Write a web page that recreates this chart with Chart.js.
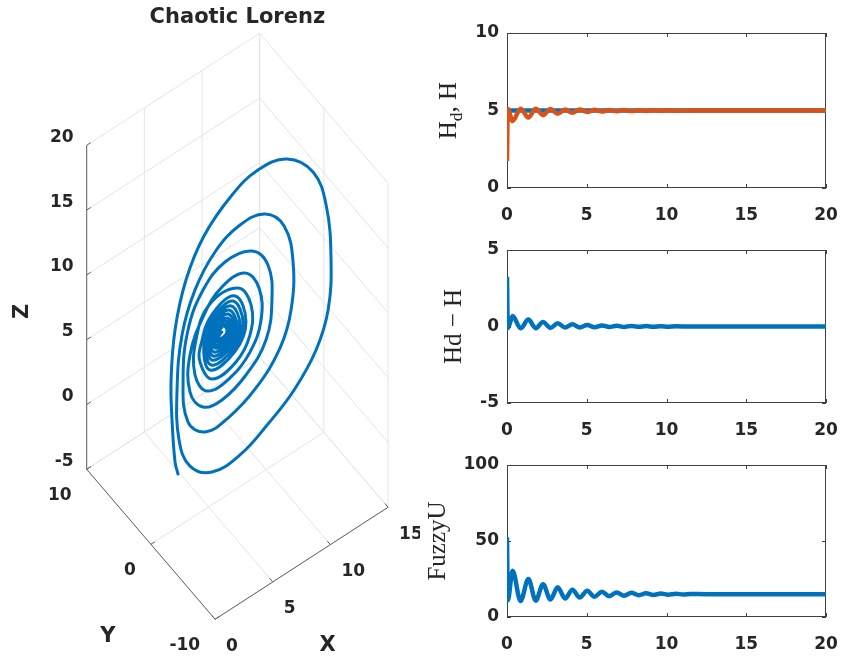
<!DOCTYPE html>
<html>
<head>
<meta charset="utf-8">
<title>Chaotic Lorenz</title>
<script src="https://cdn.jsdelivr.net/npm/chart.js@4.4.1/dist/chart.umd.min.js"></script>
<style>
  body { margin: 0; background: #fff; }
  #wrap { position: relative; width: 842px; height: 661px; overflow: hidden; }
  #wrap canvas { position: absolute; }
</style>
</head>
<body>
<div id="wrap">
  <canvas id="lorenz" width="420" height="661" style="left:0;top:0"></canvas>
  <canvas id="hChart" width="422" height="225" style="left:420px;top:0"></canvas>
  <canvas id="eChart" width="422" height="220" style="left:420px;top:220px"></canvas>
  <canvas id="uChart" width="422" height="214" style="left:420px;top:440px"></canvas>
</div>
<script>
/*------------------------- Lorenz trajectory (x, y, z) -------------------------*/
var lorenzX = [3.43, 3.24, 3.04, 2.98, 3.24, 3.95, 5.12, 6.94, 8.63, 10.52,
  12.21, 13.06, 13.38, 13.19, 12.41, 10.98, 9.28, 7.46, 5.64, 4.21,
  3.50, 3.37, 3.69, 4.54, 5.84, 7.46, 9.09, 10.33, 10.91, 10.78,
  10.07, 8.50, 6.68, 5.19, 4.08, 3.76, 4.08, 5.06, 6.49, 8.24,
  9.28, 9.54, 9.15, 7.85, 6.29, 5.06, 4.21, 4.21, 5.12, 6.29,
  7.79, 8.70, 8.83, 8.11, 6.81, 5.32, 4.54, 4.60, 5.45, 7.33,
  8.18, 8.11, 7.20, 5.64, 4.86,
  4.93, 5.64, 7.14, 7.85, 7.14, 5.51,
  5.12, 5.76, 7.01, 7.66, 7.03, 5.58,
  5.25, 5.81, 6.88, 7.46, 6.91, 5.64,
  5.38, 5.86, 6.75, 7.27, 6.80, 5.71,
  5.51, 5.92, 6.68, 7.14, 6.73, 5.77,
  5.64, 5.99, 6.62, 7.01, 6.67, 5.84,
  5.77, 6.05, 6.55, 6.88, 6.60, 5.90,
  5.90, 6.12, 6.49, 6.75, 6.54, 5.97,
  6.03, 6.18, 6.42, 6.62, 6.47, 6.03,
  6.16, 6.29];
var lorenzY = [1.94, 2.06, 2.17, 2.21, 2.06, 1.63, 0.93, -0.17, -1.18, -2.31,
  -3.33, -3.84, -4.03, -3.91, -3.44, -2.59, -1.57, -0.48, 0.61, 1.47,
  1.90, 1.98, 1.78, 1.28, 0.50, -0.48, -1.45, -2.20, -2.55, -2.47,
  -2.04, -1.10, -0.01, 0.89, 1.55, 1.74, 1.55, 0.96, 0.11, -0.94,
  -1.57, -1.72, -1.49, -0.71, 0.23, 0.96, 1.47, 1.47, 0.93, 0.23,
  -0.67, -1.22, -1.30, -0.87, -0.09, 0.81, 1.28, 1.24, 0.73, -0.40,
  -0.91, -0.87, -0.32, 0.61, 1.08,
  1.04, 0.61, -0.28, -0.71, -0.28, 0.69,
  0.93, 0.54, -0.21, -0.60, -0.22, 0.65,
  0.85, 0.51, -0.13, -0.48, -0.15, 0.61,
  0.77, 0.48, -0.05, -0.36, -0.08, 0.57,
  0.69, 0.45, -0.01, -0.28, -0.04, 0.54,
  0.61, 0.41, 0.03, -0.21, 0.00, 0.50,
  0.54, 0.37, 0.07, -0.13, 0.04, 0.46,
  0.46, 0.33, 0.11, -0.05, 0.08, 0.42,
  0.38, 0.29, 0.15, 0.03, 0.12, 0.38,
  0.30, 0.23];
var lorenzZ = [-2.68, -1.71, 1.58, 4.68, 8.48, 12.17, 15.30, 18.05, 19.59, 20.00,
  18.61, 15.87, 11.56, 7.74, 4.83, 2.08, -0.16, -2.13, -3.03, -2.24,
  -0.07, 3.82, 7.99, 11.27, 13.90, 15.61, 16.09, 14.88, 11.97, 8.29,
  5.53, 2.80, 0.90, 0.16, 1.19, 4.50, 8.28, 11.15, 12.98, 13.43,
  12.11, 9.35, 6.35, 3.95, 2.38, 2.12, 3.47, 6.33, 9.20, 11.10,
  11.84, 10.47, 7.97, 5.66, 3.96, 3.29, 4.71, 7.39, 9.90, 10.78,
  9.28, 6.98, 5.10, 4.15, 5.64,
  7.01, 9.12, 10.21, 8.04, 5.93, 4.87,
  7.07, 8.90, 9.85, 7.97, 6.15, 5.24,
  7.16, 8.70, 9.50, 7.90, 6.36, 5.61,
  7.22, 8.53, 9.22, 7.86, 6.54, 5.91,
  7.29, 8.37, 8.92, 7.79, 6.71, 6.20,
  7.35, 8.20, 8.63, 7.73, 6.88, 6.49,
  7.39, 8.07, 8.41, 7.69, 7.01, 6.71,
  7.43, 7.94, 8.20, 7.65, 7.14, 6.93,
  7.49, 7.86, 8.06, 7.67, 7.29, 7.14,
  7.50, 7.62];

// 3D box limits and ticks
var xLim = [0, 15], yLim = [-10, 10], zLim = [-5, 20];
var xTicks3d = [0, 5, 10, 15];
var yTicks3d = [-10, 0, 10];
var zTicks3d = [-5, 0, 5, 10, 15, 20];

/*------------------------- time responses -------------------------*/
var hdTime = [0, 20];
var hdValue = [5, 5];

var hTime = [0, 0.05, 0.35, 0.85, 1.34, 1.8, 2.26, 2.72, 3.18, 3.64, 4.1, 4.56, 5.03, 5.49,
  5.95, 6.41, 6.88, 7.34, 7.8, 8.26, 8.72, 9.18, 9.65, 10.1, 10.6, 11.5, 20];
var hValue = [1.75, 5.1, 4.32, 5.12, 4.55, 5.11, 4.7, 5.09, 4.79, 5.07, 4.86, 5.06, 4.9, 5.045,
  4.93, 5.035, 4.95, 5.027, 4.96, 5.02, 4.973, 5.015, 4.982, 5.01, 4.99, 5, 5];

var errTime = [0, 0.05, 0.35, 0.85, 1.34, 1.8, 2.26, 2.72, 3.18, 3.64, 4.1, 4.56, 5.03, 5.49,
  5.95, 6.41, 6.88, 7.34, 7.8, 8.26, 8.72, 9.18, 9.65, 10.1, 10.6, 11.5, 20];
var errValue = [3.25, -0.1, 0.68, -0.12, 0.45, -0.11, 0.3, -0.09, 0.21, -0.07, 0.14, -0.06, 0.1, -0.045,
  0.07, -0.035, 0.05, -0.027, 0.04, -0.02, 0.027, -0.015, 0.018, -0.01, 0.01, 0, 0];

var uTime = [0, 0.05, 0.35, 0.85, 1.34, 1.8, 2.26, 2.72, 3.18, 3.64, 4.1, 4.56, 5.03, 5.49,
  5.95, 6.41, 6.88, 7.34, 7.8, 8.26, 8.72, 9.18, 9.65, 10.1, 10.6, 11.05, 11.5, 12.5, 20];
var uValue = [52.5, 11, 30.5, 10.5, 25, 10.8, 21.5, 11.5, 19.5, 12.2, 18, 12.8, 17.2, 13.3,
  16.6, 13.7, 16.2, 14.0, 15.9, 14.3, 15.6, 14.5, 15.4, 14.7, 15.25, 14.85, 15.15, 15, 15];

var BLUE = '#0072BD', ORANGE = '#D95319', TEXT = '#262626';
var tickFont = { family: 'DejaVu Sans', size: 17, weight: 'bold' };

/*------------------------- 3D view -------------------------*/
// screen offset (px, up positive) of one data unit along each axis
var dirX = [11.53, 7.47], dirY = [-6.42, 7.5], dirZ = [0, 12.96];

function project(x, y, z) {
  return { x: x * dirX[0] + y * dirY[0] + z * dirZ[0], y: x * dirX[1] + y * dirY[1] + z * dirZ[1] };
}

var lorenzAxes = {
  id: 'lorenzAxes',
  beforeDatasetsDraw: function (chart) {
    var ctx = chart.ctx, sx = chart.scales.x, sy = chart.scales.y;
    function pt(x, y, z) {
      var p = project(x, y, z);
      return [sx.getPixelForValue(p.x), sy.getPixelForValue(p.y)];
    }
    function seg(a, b) {
      ctx.beginPath(); ctx.moveTo(a[0], a[1]); ctx.lineTo(b[0], b[1]); ctx.stroke();
    }
    ctx.save();
    ctx.lineWidth = 1;

    // grid on the two back walls and the floor
    ctx.strokeStyle = '#e4e4e4';
    xTicks3d.forEach(function (x) { seg(pt(x, yLim[1], zLim[0]), pt(x, yLim[1], zLim[1])); });
    zTicks3d.forEach(function (z) { seg(pt(xLim[0], yLim[1], z), pt(xLim[1], yLim[1], z)); });
    yTicks3d.forEach(function (y) { seg(pt(xLim[1], y, zLim[0]), pt(xLim[1], y, zLim[1])); });
    zTicks3d.forEach(function (z) { seg(pt(xLim[1], yLim[0], z), pt(xLim[1], yLim[1], z)); });
    xTicks3d.forEach(function (x) { seg(pt(x, yLim[0], zLim[0]), pt(x, yLim[1], zLim[0])); });
    yTicks3d.forEach(function (y) { seg(pt(xLim[0], y, zLim[0]), pt(xLim[1], y, zLim[0])); });

    // axis lines and ticks
    ctx.strokeStyle = '#606060';
    seg(pt(xLim[0], yLim[1], zLim[0]), pt(xLim[0], yLim[1], zLim[1]));
    seg(pt(xLim[0], yLim[0], zLim[0]), pt(xLim[0], yLim[1], zLim[0]));
    seg(pt(xLim[0], yLim[0], zLim[0]), pt(xLim[1], yLim[0], zLim[0]));
    zTicks3d.forEach(function (z) { seg(pt(xLim[0], yLim[1], z), pt(xLim[0] + 0.35, yLim[1], z)); });
    yTicks3d.forEach(function (y) { seg(pt(xLim[0], y, zLim[0]), pt(xLim[0] + 0.35, y, zLim[0])); });
    xTicks3d.forEach(function (x) { seg(pt(x, yLim[0], zLim[0]), pt(x, yLim[0] + 0.5, zLim[0])); });

    // tick labels
    ctx.fillStyle = TEXT;
    ctx.font = 'bold 17px "DejaVu Sans"';
    ctx.textBaseline = 'middle';
    ctx.textAlign = 'right';
    zTicks3d.forEach(function (z) { var p = pt(xLim[0], yLim[1], z); ctx.fillText(String(z), p[0] - 13, p[1] - 8); });
    yTicks3d.forEach(function (y) { var p = pt(xLim[0], y, zLim[0]); ctx.fillText(String(y), p[0] - 15, p[1] + 26); });
    ctx.textAlign = 'left';
    xTicks3d.forEach(function (x) { var p = pt(x, yLim[0], zLim[0]); ctx.fillText(String(x), p[0] + 11, p[1] + 27); });

    // axis titles
    ctx.font = 'bold 21px "DejaVu Sans"';
    ctx.textAlign = 'center';
    var zMid = pt(xLim[0], yLim[1], (zLim[0] + zLim[1]) / 2);
    ctx.save();
    ctx.translate(zMid[0] - 64, zMid[1] + 4);
    ctx.rotate(-Math.PI / 2);
    ctx.fillText('Z', 0, 0);
    ctx.restore();
    var yMid = pt(xLim[0], (yLim[0] + yLim[1]) / 2, zLim[0]);
    ctx.fillText('Y', yMid[0] - 43, yMid[1] + 92);
    var xMid = pt((xLim[0] + xLim[1]) / 2, yLim[0], zLim[0]);
    ctx.fillText('X', xMid[0] + 26, xMid[1] + 82);

    // title over the box
    var left = pt(xLim[0], yLim[1], zLim[0])[0];
    var right = pt(xLim[1], yLim[0], zLim[0])[0];
    var top = pt(xLim[1], yLim[1], zLim[1])[1];
    ctx.fillText('Chaotic Lorenz', (left + right) / 2, top - 16);
    ctx.restore();
  }
};

var lorenzPoints = lorenzX.map(function (x, i) { return project(x, lorenzY[i], lorenzZ[i]); });

new Chart(document.getElementById('lorenz'), {
  type: 'scatter',
  data: {
    datasets: [{
      data: lorenzPoints,
      showLine: true,
      borderColor: BLUE,
      borderWidth: 3,
      borderCapStyle: 'round',
      borderJoinStyle: 'round',
      pointRadius: 0,
      tension: 0.4,
      fill: false
    }]
  },
  options: {
    responsive: false,
    animation: false,
    devicePixelRatio: 1,
    layout: { padding: 0 },
    plugins: { legend: { display: false }, tooltip: { enabled: false } },
    scales: {
      x: { type: 'linear', display: false, min: -150.9, max: 269.1 },
      y: { type: 'linear', display: false, min: -181.5, max: 479.5 }
    }
  },
  plugins: [lorenzAxes]
});

/*------------------------- 2D panels -------------------------*/
// box with inner ticks, and the serif y label
var frame2d = {
  id: 'frame2d',
  beforeDatasetsDraw: function (chart) {
    var a = chart.chartArea, ctx = chart.ctx;
    var xs = chart.scales.x, ys = chart.scales.y;
    ctx.save();
    ctx.strokeStyle = '#404040';
    ctx.lineWidth = 1;
    ctx.strokeRect(a.left + 0.5, a.top + 0.5, a.width - 1, a.height - 1);
    ctx.beginPath();
    xs.ticks.forEach(function (t) {
      var px = Math.round(xs.getPixelForValue(t.value)) + 0.5;
      ctx.moveTo(px, a.bottom); ctx.lineTo(px, a.bottom - 4);
      ctx.moveTo(px, a.top); ctx.lineTo(px, a.top + 4);
    });
    ys.ticks.forEach(function (t) {
      var py = Math.round(ys.getPixelForValue(t.value)) + 0.5;
      ctx.moveTo(a.left, py); ctx.lineTo(a.left + 4, py);
      ctx.moveTo(a.right, py); ctx.lineTo(a.right - 4, py);
    });
    ctx.stroke();
    ctx.restore();
  },
  afterDraw: function (chart, args, opts) {
    var a = chart.chartArea, ctx = chart.ctx, ys = chart.scales.y;
    var size = 25;
    ctx.save();
    ctx.font = 'bold 17px "DejaVu Sans"';
    var widest = 0;
    ys.ticks.forEach(function (t) { widest = Math.max(widest, ctx.measureText(String(t.value)).width); });
    var baseX = a.left - 8 - widest - 19;
    ctx.translate(baseX, (a.top + a.bottom) / 2);
    ctx.rotate(-Math.PI / 2);
    ctx.fillStyle = TEXT;
    ctx.textBaseline = 'alphabetic';
    var widths = opts.label.map(function (p) {
      ctx.font = (p.sub ? size * 0.7 : size) + 'px "Liberation Serif"';
      return ctx.measureText(p.text).width;
    });
    var cx = -widths.reduce(function (s, w) { return s + w; }, 0) / 2;
    opts.label.forEach(function (p, i) {
      ctx.font = (p.sub ? size * 0.7 : size) + 'px "Liberation Serif"';
      ctx.fillText(p.text, cx, p.sub ? size * 0.22 : 0);
      cx += widths[i];
    });
    ctx.restore();
  }
};

function toPoints(ts, vs) {
  return ts.map(function (t, i) { return { x: t, y: vs[i] }; });
}

function lineSet(ts, vs, color) {
  return {
    data: toPoints(ts, vs),
    showLine: true,
    borderColor: color,
    borderWidth: 4.5,
    borderJoinStyle: 'round',
    pointRadius: 0,
    cubicInterpolationMode: 'monotone',
    fill: false
  };
}

function seriesChart(id, datasets, yRange, yStep, padTop, label) {
  return new Chart(document.getElementById(id), {
    type: 'scatter',
    data: { datasets: datasets },
    options: {
      responsive: false,
      animation: false,
      devicePixelRatio: 1,
      layout: { padding: { top: padTop, right: 16, bottom: 0, left: 0 } },
      plugins: { legend: { display: false }, tooltip: { enabled: false }, frame2d: { label: label } },
      scales: {
        x: {
          type: 'linear', min: 0, max: 20,
          grid: { display: false, drawTicks: false }, border: { display: false },
          ticks: { stepSize: 5, padding: 17, color: TEXT, font: tickFont, maxRotation: 0 },
          afterFit: function (s) { s.height = 37; s.paddingLeft = 0; s.paddingRight = 0; }
        },
        y: {
          type: 'linear', min: yRange[0], max: yRange[1],
          grid: { display: false, drawTicks: false }, border: { display: false },
          ticks: { stepSize: yStep, padding: 8, color: TEXT, font: tickFont },
          afterFit: function (s) { s.width = 87; s.paddingTop = 0; s.paddingBottom = 0; }
        }
      }
    },
    plugins: [frame2d]
  });
}

seriesChart('hChart',
  [lineSet(hTime, hValue, ORANGE), lineSet(hdTime, hdValue, BLUE)],
  [0, 10], 5, 33,
  [{ text: 'H' }, { text: 'd', sub: true }, { text: ', H' }]);

seriesChart('eChart',
  [lineSet(errTime, errValue, BLUE)],
  [-5, 5], 5, 30,
  [{ text: 'Hd \u2212 H' }]);

seriesChart('uChart',
  [lineSet(uTime, uValue, BLUE)],
  [0, 100], 50, 25,
  [{ text: 'FuzzyU' }]);
</script>
</body>
</html>
